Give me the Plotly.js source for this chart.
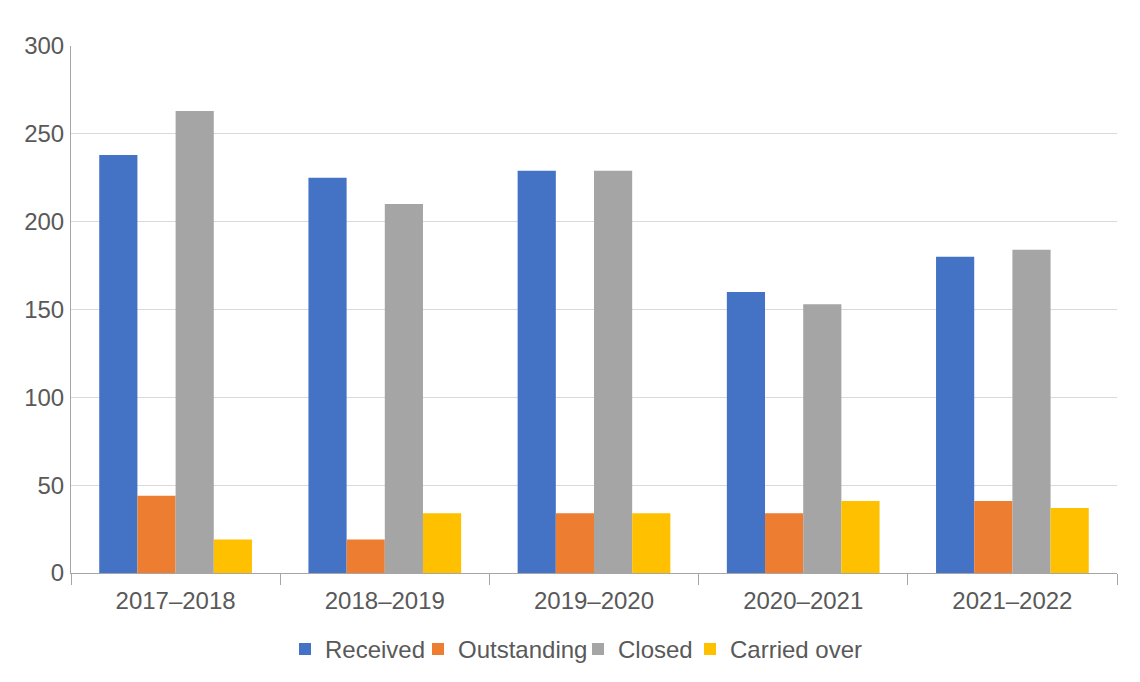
<!DOCTYPE html>
<html>
<head>
<meta charset="utf-8">
<script src="https://cdn.plot.ly/plotly-3.0.1.min.js"></script>
<style>html,body{margin:0;padding:0;background:#fff;}#chart{width:1140px;height:682px;}</style>
</head>
<body>
<div id="chart"></div>
<script>
const categories = ["2017\u20132018", "2018\u20132019", "2019\u20132020", "2020\u20132021", "2021\u20132022"];
const received = [238, 225, 229, 160, 180];
const outstanding = [44, 19, 34, 34, 41];
const closed = [263, 210, 229, 153, 184];
const carriedOver = [19, 34, 34, 41, 37];
const seriesNames = ["Received", "Outstanding", "Closed", "Carried over"];
const colors = ["#4472C4", "#ED7D31", "#A5A5A5", "#FFC000"];
const yTicks = [0, 50, 100, 150, 200, 250, 300];
const legendWidths = [88, 115, 67, 140];

const allSeries = [received, outstanding, closed, carriedOver];
const traces = allSeries.map((vals, i) => ({
  type: "bar",
  name: seriesNames[i],
  x: categories,
  y: vals,
  marker: {color: colors[i]},
  legendwidth: legendWidths[i],
  hoverinfo: "x+y+name"
}));

const layout = {
  width: 1140,
  height: 682,
  margin: {l: 71, r: 23, t: 46, b: 109, autoexpand: false},
  paper_bgcolor: "#ffffff",
  plot_bgcolor: "#ffffff",
  font: {family: "Liberation Sans, Arial, sans-serif", size: 24, color: "#595959"},
  barmode: "group",
  bargap: 0.27,
  bargroupgap: 0,
  showlegend: true,
  legend: {
    orientation: "h",
    x: 0.2046, xanchor: "left",
    y: -0.145, yanchor: "middle",
    font: {size: 24, color: "#595959"},
    itemwidth: 30,
    tracegroupgap: 0,
    traceorder: "normal"
  },
  xaxis: {
    type: "category",
    automargin: false,
    showgrid: false,
    showline: true,
    linecolor: "#A6A6A6",
    linewidth: 1,
    ticks: "outside",
    tickson: "boundaries",
    ticklen: 11,
    tickcolor: "#A6A6A6",
    ticklabelstandoff: 6,
    tickfont: {size: 24, color: "#595959"},
    zeroline: false
  },
  yaxis: {
    automargin: false,
    range: [0, 300],
    tickvals: yTicks,
    ticktext: yTicks.map(String),
    showgrid: true,
    gridcolor: "#D9D9D9",
    gridwidth: 1,
    showline: true,
    linecolor: "#A6A6A6",
    linewidth: 1,
    ticks: "",
    ticklabelstandoff: 1,
    tickfont: {size: 24, color: "#595959"},
    zeroline: false
  }
};

Plotly.newPlot("chart", traces, layout, {displayModeBar: false, staticPlot: true});
</script>
</body>
</html>
